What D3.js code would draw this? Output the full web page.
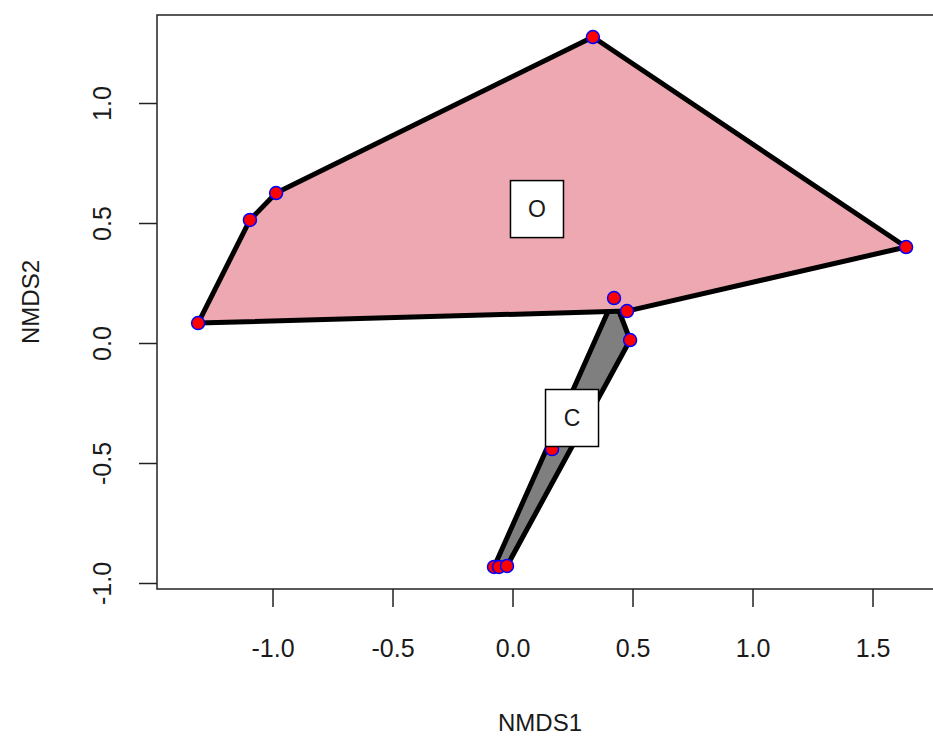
<!DOCTYPE html>
<html>
<head>
<meta charset="utf-8">
<script src="https://cdn.jsdelivr.net/npm/d3@7"></script>
<style>
  body { margin: 0; background: #fff; }
  text { font-family: "Liberation Sans", Arial, sans-serif; }
</style>
</head>
<body>
<svg id="chart" width="933" height="738"></svg>
<script>
// NMDS site scores
var groups = ["C", "O"]
var groupFill = ["#7f7f7f", "#eda8b1"]
var nmds1C = [0.423, 0.490, 0.165, -0.077, -0.056, -0.023]
var nmds2C = [0.1875, 0.0125, -0.442, -0.933, -0.933, -0.929]
var nmds1O = [-1.310, -1.094, -0.985, 0.335, 1.640, 0.477]
var nmds2O = [0.083, 0.513, 0.625, 1.275, 0.400, 0.133]
// hull label positions
var labelX = [0.248, 0.102]
var labelY = [-0.3125, 0.558]
var xTicks = [-1.0, -0.5, 0.0, 0.5, 1.0, 1.5]
var yTicks = [-1.0, -0.5, 0.0, 0.5, 1.0]

var svg = d3.select("#chart")

var pLeft = 157, pTop = 15, pRight = 940, pBottom = 589
var x = d3.scaleLinear().domain([-1.48125, 1.78125]).range([pLeft, pRight])
var y = d3.scaleLinear().domain([-1.025, 1.3667]).range([pBottom, pTop])

// R style labels, plain hyphen for minus
var fmt = function(d) { return d.toFixed(1) }

var pts = {
    C: nmds1C.map(function(d, i) { return [d, nmds2C[i]] }),
    O: nmds1O.map(function(d, i) { return [d, nmds2O[i]] })
}

// hulls, C drawn first then O on top
groups.forEach(function(g, i) {
    var hull = d3.polygonHull(pts[g].map(function(p) { return [x(p[0]), y(p[1])] }))
    svg.append("path")
        .attr("d", "M" + hull.join("L") + "Z")
        .attr("fill", groupFill[i])
        .attr("stroke", "black")
        .attr("stroke-width", 5)
        .attr("stroke-linejoin", "round")
})

// points
groups.forEach(function(g) {
    svg.append("g").selectAll("circle")
        .data(pts[g])
        .enter().append("circle")
        .attr("cx", function(d) { return x(d[0]) })
        .attr("cy", function(d) { return y(d[1]) })
        .attr("r", 6.5)
        .attr("fill", "red")
        .attr("stroke", "blue")
        .attr("stroke-width", 1.5)
})

// labels
groups.forEach(function(g, i) {
    var cx = x(labelX[i]), cy = y(labelY[i])
    svg.append("rect")
        .attr("x", cx - 26.5)
        .attr("y", cy - 28.5)
        .attr("width", 53)
        .attr("height", 57)
        .attr("fill", "white")
        .attr("stroke", "black")
        .attr("stroke-width", 1.5)
    svg.append("text")
        .attr("x", cx)
        .attr("y", cy)
        .attr("dy", "0.36em")
        .attr("text-anchor", "middle")
        .attr("font-size", 23)
        .attr("fill", "#1a1a1a")
        .text(g)
})

// box
svg.append("rect")
    .attr("x", pLeft)
    .attr("y", pTop)
    .attr("width", pRight - pLeft)
    .attr("height", pBottom - pTop)
    .attr("fill", "none")
    .attr("stroke", "#222")
    .attr("stroke-width", 1.5)

// x axis
var xa = svg.append("g").attr("transform", "translate(0," + pBottom + ")")
    .call(d3.axisBottom(x).tickValues(xTicks).tickSize(18).tickPadding(32).tickFormat(fmt))
xa.select(".domain").remove()
xa.selectAll("line").attr("stroke", "#222").attr("stroke-width", 1.5)
xa.selectAll("text").attr("font-size", 25).attr("fill", "#1a1a1a")
    .attr("font-family", "'Liberation Sans', Arial, sans-serif")

// y axis with rotated labels
var ya = svg.append("g").attr("transform", "translate(" + pLeft + ",0)")
    .call(d3.axisLeft(y).tickValues(yTicks).tickSize(18).tickFormat(fmt))
ya.select(".domain").remove()
ya.selectAll("line").attr("stroke", "#222").attr("stroke-width", 1.5)
ya.selectAll("text")
    .attr("x", null)
    .attr("transform", "translate(-55,0) rotate(-90)")
    .attr("text-anchor", "middle")
    .attr("dy", "0.36em")
    .attr("font-size", 25).attr("fill", "#1a1a1a")
    .attr("font-family", "'Liberation Sans', Arial, sans-serif")

// axis titles
svg.append("text")
    .attr("x", 540)
    .attr("y", 731)
    .attr("text-anchor", "middle")
    .attr("font-size", 24)
    .attr("fill", "#1a1a1a")
    .text("NMDS1")

svg.append("text")
    .attr("transform", "translate(30," + (pTop + pBottom) / 2 + ") rotate(-90)")
    .attr("text-anchor", "middle")
    .attr("dy", "0.36em")
    .attr("font-size", 24)
    .attr("fill", "#1a1a1a")
    .text("NMDS2")
</script>
</body>
</html>
